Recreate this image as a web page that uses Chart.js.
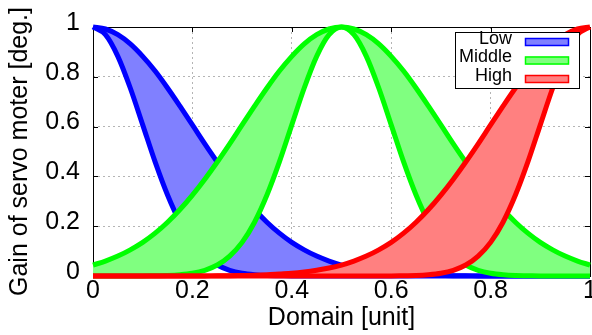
<!DOCTYPE html>
<html>
<head>
<meta charset="utf-8">
<script src="https://cdn.jsdelivr.net/npm/chart.js@4/dist/chart.umd.min.js"></script>
<style>
  html, body { margin: 0; padding: 0; background: #ffffff; }
  #wrap { width: 592px; height: 335px; position: relative; }
</style>
</head>
<body>
<div id="wrap"><canvas id="chart" width="592" height="335"></canvas></div>
<script>
// Domain samples (unit)
const domain = [0, 0.025, 0.05, 0.075, 0.1, 0.125, 0.15, 0.175, 0.2, 0.225,
  0.25, 0.275, 0.3, 0.325, 0.35, 0.375, 0.4, 0.425, 0.45, 0.475,
  0.5, 0.525, 0.55, 0.575, 0.6, 0.625, 0.65, 0.675, 0.7, 0.725,
  0.75, 0.775, 0.8, 0.825, 0.85, 0.875, 0.9, 0.925, 0.95, 0.975, 1];

// Membership grades: upper and lower bounds of each fuzzy set
const lowUpper = [1, 0.992, 0.969, 0.932, 0.882, 0.823, 0.755, 0.682, 0.607, 0.531,
  0.458, 0.389, 0.325, 0.267, 0.216, 0.172, 0.135, 0.105, 0.080, 0.060,
  0.044, 0.032, 0.023, 0.016, 0.011, 0.008, 0.005, 0.003, 0.002, 0.001,
  0.001, 0, 0, 0, 0, 0, 0, 0, 0, 0, 0];
const lowLower = [1, 0.969, 0.882, 0.755, 0.607, 0.458, 0.325, 0.216, 0.135, 0.080,
  0.044, 0.023, 0.011, 0.005, 0.002, 0.001, 0, 0, 0, 0,
  0, 0, 0, 0, 0, 0, 0, 0, 0, 0,
  0, 0, 0, 0, 0, 0, 0, 0, 0, 0, 0];
const middleUpper = [0.044, 0.060, 0.080, 0.105, 0.135, 0.172, 0.216, 0.267, 0.325, 0.389,
  0.458, 0.531, 0.607, 0.682, 0.755, 0.823, 0.882, 0.932, 0.969, 0.992,
  1, 0.992, 0.969, 0.932, 0.882, 0.823, 0.755, 0.682, 0.607, 0.531,
  0.458, 0.389, 0.325, 0.267, 0.216, 0.172, 0.135, 0.105, 0.080, 0.060, 0.044];
const middleLower = [0, 0, 0, 0, 0, 0.001, 0.002, 0.005, 0.011, 0.023,
  0.044, 0.080, 0.135, 0.216, 0.325, 0.458, 0.607, 0.755, 0.882, 0.969,
  1, 0.969, 0.882, 0.755, 0.607, 0.458, 0.325, 0.216, 0.135, 0.080,
  0.044, 0.023, 0.011, 0.005, 0.002, 0.001, 0, 0, 0, 0, 0];
const highUpper = [0, 0, 0, 0, 0, 0, 0, 0, 0, 0,
  0.001, 0.001, 0.002, 0.003, 0.005, 0.008, 0.011, 0.016, 0.023, 0.032,
  0.044, 0.060, 0.080, 0.105, 0.135, 0.172, 0.216, 0.267, 0.325, 0.389,
  0.458, 0.531, 0.607, 0.682, 0.755, 0.823, 0.882, 0.932, 0.969, 0.992, 1];
const highLower = [0, 0, 0, 0, 0, 0, 0, 0, 0, 0,
  0, 0, 0, 0, 0, 0, 0, 0, 0, 0,
  0, 0, 0, 0, 0, 0.001, 0.002, 0.005, 0.011, 0.023,
  0.044, 0.080, 0.135, 0.216, 0.325, 0.458, 0.607, 0.755, 0.882, 0.969, 1];

const seriesNames = ['Low', 'Middle', 'High'];
const axisTicks = [0, 0.2, 0.4, 0.6, 0.8, 1];
const tickLabels = ['0', '0.2', '0.4', '0.6', '0.8', '1'];

const FONT = "'Liberation Sans', Arial, Helvetica, sans-serif";
const lineColors = ['#0000ff', '#00ff00', '#ff0000'];
const fillColors = ['#8080ff', '#80ff80', '#ff8080'];

const pts = arr => arr.map((v, i) => ({ x: domain[i], y: v }));

// Each set is a band: lower bound fills up to the upper bound.
// Higher "order" is painted first, so Low lies underneath and High on top.
const bands = [
  [lowUpper, lowLower],
  [middleUpper, middleLower],
  [highUpper, highLower]
];
const datasets = [];
bands.forEach(([up, lo], k) => {
  const common = {
    borderColor: lineColors[k],
    borderWidth: 5,
    pointRadius: 0,
    pointHoverRadius: 0,
    cubicInterpolationMode: 'monotone',
    borderJoinStyle: 'round',
    clip: 3
  };
  const upperIndex = datasets.length;
  datasets.push(Object.assign({}, common, {
    label: seriesNames[k] + ' upper',
    data: pts(up),
    fill: false,
    order: 10 - 2 * k - 1
  }));
  datasets.push(Object.assign({}, common, {
    label: seriesNames[k] + ' lower',
    data: pts(lo),
    fill: { target: upperIndex },
    backgroundColor: fillColors[k],
    order: 10 - 2 * k
  }));
});

// Plot frame with inward tick marks (drawn beneath the curves)
const framePlugin = {
  id: 'frame',
  beforeDatasetsDraw(chart) {
    const { ctx, chartArea: a, scales } = chart;
    const x = scales.x, y = scales.y;
    ctx.save();
    ctx.strokeStyle = '#000000';
    ctx.lineWidth = 1;
    ctx.beginPath();
    axisTicks.forEach(v => {
      const px = Math.round(x.getPixelForValue(v)) + 0.5;
      ctx.moveTo(px, a.bottom); ctx.lineTo(px, a.bottom - 5);
      ctx.moveTo(px, a.top); ctx.lineTo(px, a.top + 5);
      const py = Math.round(y.getPixelForValue(v)) + 0.5;
      ctx.moveTo(a.left, py); ctx.lineTo(a.left + 5, py);
      ctx.moveTo(a.right, py); ctx.lineTo(a.right - 5, py);
    });
    ctx.stroke();
    ctx.strokeRect(Math.round(a.left) + 0.5, Math.round(a.top) + 0.5,
      Math.round(a.right - a.left), Math.round(a.bottom - a.top));
    ctx.restore();
  }
};

// Key box: names right-aligned, coloured swatches on the right
const keyPlugin = {
  id: 'key',
  afterDraw(chart) {
    const ctx = chart.ctx;
    ctx.save();
    ctx.fillStyle = '#ffffff';
    ctx.fillRect(455, 32, 124, 56);
    ctx.strokeStyle = '#000000';
    ctx.lineWidth = 1;
    ctx.strokeRect(455.5, 32.5, 124, 56);
    ctx.font = '18px ' + FONT;
    ctx.textAlign = 'right';
    ctx.textBaseline = 'middle';
    const rows = [39, 57.5, 76];
    seriesNames.forEach((name, k) => {
      ctx.fillStyle = '#000000';
      ctx.fillText(name, 512, rows[k]);
      ctx.fillStyle = fillColors[k];
      ctx.fillRect(525, rows[k] - 1, 44, 8);
      ctx.strokeStyle = lineColors[k];
      ctx.lineWidth = 1.5;
      ctx.strokeRect(525.5, rows[k] - 0.5, 43, 7);
    });
    ctx.restore();
  }
};

const gridColor = c => (c.tick && (c.tick.value === 0 || c.tick.value === 1)) ? 'rgba(0,0,0,0)' : '#b4b4b4';
const tickText = (v, i) => tickLabels[i];

new Chart(document.getElementById('chart'), {
  type: 'line',
  data: { datasets },
  options: {
    responsive: false,
    animation: false,
    events: [],
    layout: { padding: { left: 0, right: 2, top: 27, bottom: 0 } },
    plugins: {
      legend: { display: false },
      tooltip: { enabled: false }
    },
    scales: {
      x: {
        type: 'linear',
        min: 0, max: 1,
        afterBuildTicks: s => { s.ticks = axisTicks.map(v => ({ value: v })); },
        ticks: {
          color: '#000000',
          font: { family: FONT, size: 25 },
          padding: 0,
          maxRotation: 0,
          autoSkip: false,
          callback: tickText
        },
        grid: { color: gridColor, lineWidth: 1, drawTicks: false },
        border: { display: false, dash: [2, 3] },
        title: {
          display: true,
          text: 'Domain [unit]',
          color: '#000000',
          font: { family: FONT, size: 25 },
          padding: { top: 0, bottom: 2 }
        },
        afterFit: s => { s.height = 59; s.paddingLeft = 0; s.paddingRight = 0; }
      },
      y: {
        type: 'linear',
        min: 0, max: 1,
        afterBuildTicks: s => { s.ticks = axisTicks.map(v => ({ value: v })); },
        ticks: {
          color: '#000000',
          font: { family: FONT, size: 25 },
          padding: 13,
          labelOffset: -4,
          callback: tickText
        },
        grid: { color: gridColor, lineWidth: 1, drawTicks: false },
        border: { display: false, dash: [2, 3] },
        title: {
          display: true,
          text: 'Gain of servo moter [deg.]',
          color: '#000000',
          font: { family: FONT, size: 25 },
          padding: { top: 5, bottom: 0 }
        },
        afterFit: s => { s.width = 93; s.paddingTop = 0; s.paddingBottom = 0; }
      }
    }
  },
  plugins: [framePlugin, keyPlugin]
});
</script>
</body>
</html>
